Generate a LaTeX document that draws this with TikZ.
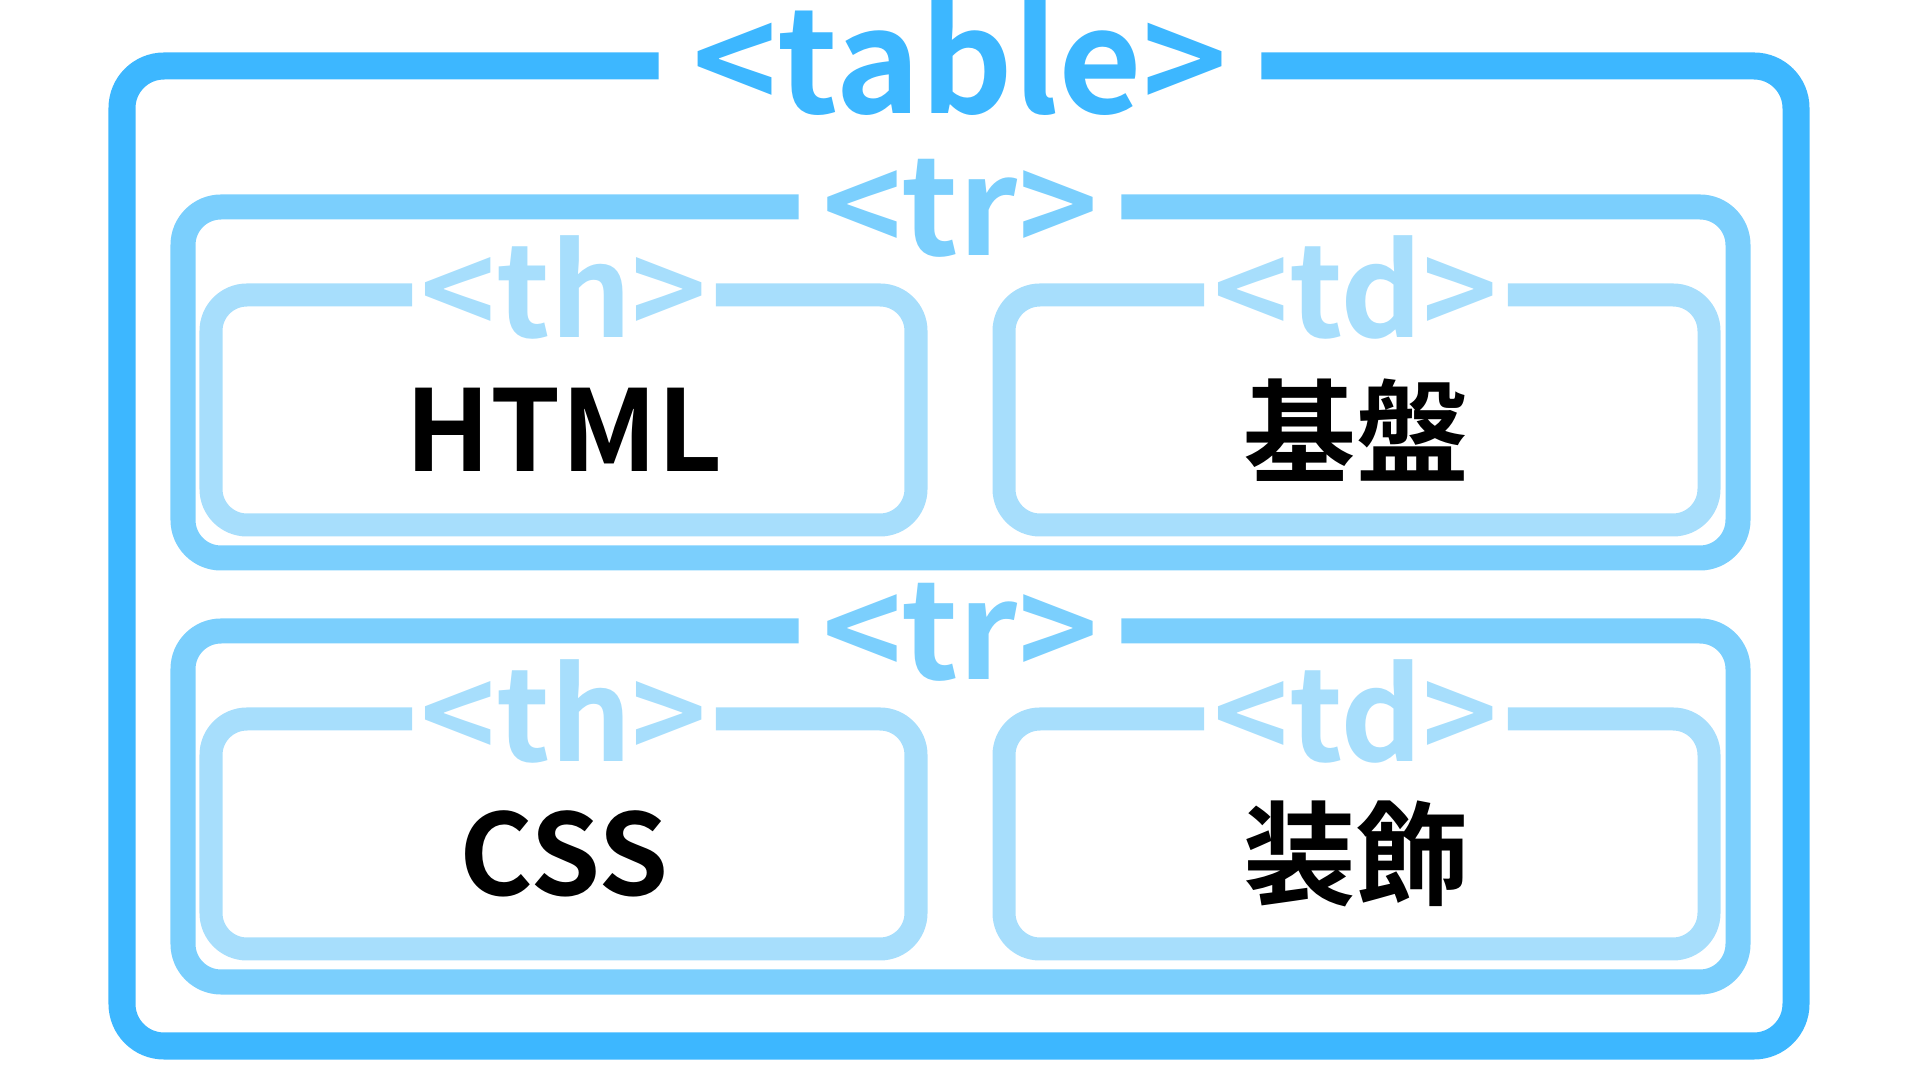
\documentclass[tikz,border=0pt]{standalone}
\usepackage{fontspec}
\setmainfont{Noto Sans CJK JP Bold}
\definecolor{tablecol}{RGB}{61,183,255}
\definecolor{trcol}{RGB}{123,207,253}
\definecolor{cellcol}{RGB}{167,222,252}
\tikzset{
  tablebox/.style={draw=tablecol, line width=0.27cm, rounded corners=0.42cm},
  rowbox/.style={draw=trcol, line width=0.25cm, rounded corners=0.38cm},
  cellbox/.style={draw=cellcol, line width=0.23cm, rounded corners=0.36cm},
  tag/.style={anchor=base, inner xsep=0pt, inner ysep=0pt},
  content/.style={font=\fontsize{32pt}{34pt}\selectfont, text=black}
}
\begin{document}
\begin{tikzpicture}[x=0.01cm, y=-0.01cm]
\useasboundingbox (0,0) rectangle (1920,1080);

% outer table
\node[tag, minimum width=6.01cm, text=tablecol, font=\fontsize{41pt}{44pt}\selectfont] (tbl) at (960,114) {<table>};
\draw[tablebox] (tbl.east |- 0,66) -- (1796,66) -- (1796,1046) -- (122,1046) -- (122,66) -- (tbl.west |- 0,66);

% rows
\foreach \r/\dy/\head/\data in {1/0/HTML/基盤, 2/424/CSS/装飾} {
  \node[tag, minimum width=3.21cm, text=trcol, font=\fontsize{38.5pt}{41pt}\selectfont] (tr\r) at (960,256+\dy) {<tr>};
  \draw[rowbox] (tr\r.east |- 0,207+\dy) -- (1738,207+\dy) -- (1738,558+\dy) -- (183,558+\dy) -- (183,207+\dy) -- (tr\r.west |- 0,207+\dy);

  \node[tag, minimum width=3.02cm, text=cellcol, font=\fontsize{36.3pt}{39pt}\selectfont] (th\r) at (564,338+\dy) {<th>};
  \draw[cellbox] (th\r.east |- 0,295+\dy) -- (916,295+\dy) -- (916,525+\dy) -- (211,525+\dy) -- (211,295+\dy) -- (th\r.west |- 0,295+\dy);
  \node[content] (head\r) at (564,430+\dy) {\head};

  \node[tag, minimum width=3.02cm, text=cellcol, font=\fontsize{36.3pt}{39pt}\selectfont] (td\r) at (1356,338+\dy) {<td>};
  \draw[cellbox] (td\r.east |- 0,295+\dy) -- (1709,295+\dy) -- (1709,525+\dy) -- (1004,525+\dy) -- (1004,295+\dy) -- (td\r.west |- 0,295+\dy);
  \node[content] (data\r) at (1356,430+\dy) {\data};
}
\end{tikzpicture}
\end{document}
